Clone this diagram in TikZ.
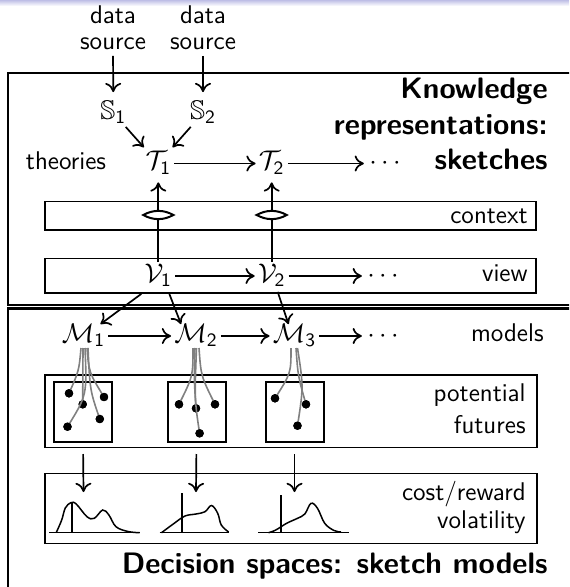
\RequirePackage{fix-cm}
\documentclass[tikz,border=0pt]{standalone}
\usepackage{fontspec}
\usepackage{amssymb}
\usetikzlibrary{arrows.meta}
\newcommand{\futcurve}[6]{%
  \node[dotnode] (#6) at (#2,#3) {};
  \draw[futline] (#1,348) .. controls ({#1+#4},{348+#5*(#3-348)}) .. (#6.center);
  \node[dotnode] at (#6.center) {};
}
\begin{document}
\begin{tikzpicture}[x=0.5pt,y=-0.5pt,
  txt/.style={font=\sffamily\fontsize{12.8}{12.8}\selectfont, inner sep=0pt},
  bld/.style={font=\sffamily\bfseries\fontsize{14.8}{15}\selectfont, inner sep=0pt},
  mth/.style={font=\fontsize{13.5}{13.5}\selectfont, inner xsep=1.5pt, inner ysep=1pt, text height=9pt, text depth=2.5pt},
  arr/.style={line width=0.85pt, -{To[length=4.6pt,width=8pt]}},
  framebox/.style={line width=1.1pt},
  inbox/.style={line width=0.75pt},
  sqbox/.style={draw, line width=1pt, minimum width=29pt, minimum height=30pt, inner sep=0pt},
  futline/.style={draw=black!50, line width=0.8pt},
  dotnode/.style={circle, fill=black, inner sep=0pt, minimum size=4.2pt},
  dist/.style={line width=0.75pt}
]
\useasboundingbox (0,0) rectangle (569,587);
\clip (0,0) rectangle (569,587);
\shade[top color={rgb,255:red,190;green,190;blue,230}, bottom color=white] (0,0) rectangle (569,6);

% frames
\draw[framebox] (8,73) rectangle (620,305);
\draw[framebox] (8,308.5) rectangle (620,640);

% inner boxes
\draw[inbox] (45,201.5) rectangle (536,230);
\draw[inbox] (45,258.5) rectangle (536,293);
\draw[inbox] (45,375) rectangle (537,447.5);
\draw[inbox] (45,473.5) rectangle (537,543.5);

% data sources
\node[txt, align=center, anchor=south] (ds1) at (113,50) {data\\source};
\node[txt, align=center, anchor=south] (ds2) at (203,50) {data\\source};

% theories row
\node[mth] (S1) at (113.3,113) {$\mathbb{S}_{\mathsf{1}}$};
\node[mth] (S2) at (203,113) {$\mathbb{S}_{\mathsf{2}}$};
\node[mth] (T1) at (158.3,163.5) {$\mathcal{T}_{\mathsf{1}}$};
\node[mth] (T2) at (271.7,163.5) {$\mathcal{T}_{\mathsf{2}}$};
\node[mth] (T3) at (385,163.5) {$\cdots$};
\node[txt, anchor=base] (theo) at (66,170) {theories};

\node[bld, anchor=base east] (k1) at (548,98.5) {Knowledge};
\node[bld, anchor=base east] (k2) at (548,135) {representations:};
\node[bld, anchor=base east] (k3) at (548,170) {sketches};

% view row
\node[mth] (V1) at (158.3,276) {$\mathcal{V}_{\mathsf{1}}$};
\node[mth] (V2) at (271.7,276) {$\mathcal{V}_{\mathsf{2}}$};
\node[mth] (V3) at (383,276) {$\cdots$};
\node[txt, anchor=base east] (ctx) at (528,223.3) {context};
\node[txt, anchor=base east] (vw) at (528,281.7) {view};

% models row
\node[mth] (M1) at (83.5,336) {$\mathcal{M}_{\mathsf{1}}$};
\node[mth] (M2) at (196,336) {$\mathcal{M}_{\mathsf{2}}$};
\node[mth] (M3) at (294.5,336) {$\mathcal{M}_{\mathsf{3}}$};
\node[mth] (M4) at (383,336) {$\cdots$};
\node[txt, anchor=base east] (mod) at (544,341.7) {models};

% arrows top
\draw[arr, shorten <=3pt, shorten >=3.5pt] (ds1.south) -- (S1.north);
\draw[arr, shorten <=3pt, shorten >=3.5pt] (ds2.south) -- (S2.north);
\draw[arr, shorten >=1.5pt] (S1) -- (T1);
\draw[arr, shorten >=1.5pt] (S2) -- (T1);
\draw[arr] (T1) -- (T2);
\draw[arr, shorten >=1pt] (T2) -- (T3);
\draw[arr, shorten >=2.5pt] (V1) -- (T1);
\draw[arr, shorten >=2.5pt] (V2) -- (T2);
\draw[arr] (V1) -- (V2);
\draw[arr, shorten >=1pt] (V2) -- (V3);

% lenses
\draw[line width=1pt, fill=white] (143.3,215) .. controls (153,209.5) and (163.6,209.5) .. (173.3,215) .. controls (163.6,220.5) and (153,220.5) .. cycle;
\draw[line width=1pt, fill=white] (256.7,215) .. controls (266.4,209.5) and (277,209.5) .. (286.7,215) .. controls (277,220.5) and (266.4,220.5) .. cycle;

% view to models
\draw[arr] ([xshift=0pt,yshift=-2pt]V1.south west) -- ([xshift=-4pt,yshift=-1pt]M1.north east);
\draw[arr] ([xshift=-3pt,yshift=-2pt]V1.south east) -- ([xshift=5pt,yshift=-1pt]M2.north west);
\draw[arr] ([xshift=3pt,yshift=-1pt]V2.south) -- ([xshift=-3pt,yshift=-1pt]M3.north);
\draw[arr] (M1) -- (M2);
\draw[arr] (M2) -- (M3);
\draw[arr, shorten >=1pt] (M3) -- (M4);

% potential futures
\node[sqbox] (sq1) at (83,412) {};
\node[sqbox] (sq2) at (196.5,412) {};
\node[sqbox] (sq3) at (294.5,412) {};
\node[txt, anchor=base east] (pot) at (526,401.7) {potential};
\node[txt, anchor=base east] (fut) at (526,433.3) {futures};

\futcurve{81}{69}{393.3}{-2}{0.5}{a1}
\futcurve{83}{82.7}{404.3}{0}{0.5}{a2}
\futcurve{85}{67.5}{426.7}{2}{0.6}{a3}
\futcurve{87}{104}{397}{2}{0.5}{a4}
\futcurve{88}{99.8}{419}{2}{0.6}{a5}
\futcurve{193}{179}{404.3}{0}{0.5}{b1}
\futcurve{195}{196}{408.3}{-1}{0.5}{b2}
\futcurve{196.5}{199.6}{433.3}{-2}{0.6}{b3}
\futcurve{199}{215}{404.3}{2}{0.5}{b4}
\futcurve{291}{275}{398.3}{0}{0.5}{c1}
\futcurve{296}{306}{404.3}{2}{0.5}{c2}
\futcurve{297.5}{297.5}{425.7}{6}{0.5}{c3}

% cost/reward
\node[txt, anchor=base east] (cr) at (526,500) {cost/reward};
\node[txt, anchor=base east] (vol) at (526,528.3) {volatility};
\coordinate (e1) at (83.5,492);
\coordinate (e2) at (196,492);
\coordinate (e3) at (294.5,492);
\draw[arr, shorten <=5.5pt] (sq1.south) -- (e1);
\draw[arr, shorten <=5.5pt] (sq2.south) -- (e2);
\draw[arr, shorten <=5.5pt] (sq3.south) -- (e3);

% distributions
\draw[dist] (49,532.7) -- (140,532.7);
\draw[dist] (71.8,532.7) -- (71.8,501.7);
\draw[dist] plot[smooth, tension=0.6] coordinates {(56.2,532.7) (61.7,520) (65.3,508) (70.8,502.7) (76.2,504) (87,516.7) (94.3,518.3) (102.7,510) (108.9,515) (116,526.7) (128,531.5) (139.7,532.7)};
\draw[dist] (159.6,532.7) -- (228.6,532.7);
\draw[dist] (182.1,532.7) -- (182.1,493.3);
\draw[dist] plot[smooth, tension=0.6] coordinates {(161.5,532.7) (174.2,523.3) (185,516) (196,514) (205,511.7) (211.5,505.5) (217.7,513.3) (221.3,525) (228.6,532)};
\draw[dist] (258.3,532.7) -- (349,532.7);
\draw[dist] (281.2,532.7) -- (281.2,495);
\draw[dist] plot[smooth, tension=0.6] coordinates {(268.5,532.7) (275.8,530) (286.6,523.3) (297.5,518.3) (304.8,514) (311,503.3) (317.5,508.3) (324.7,523.3) (334,530.5) (341,532)};

\node[bld, anchor=base east] (dec) at (548,573.3) {Decision spaces: sketch models};
\end{tikzpicture}
\end{document}
